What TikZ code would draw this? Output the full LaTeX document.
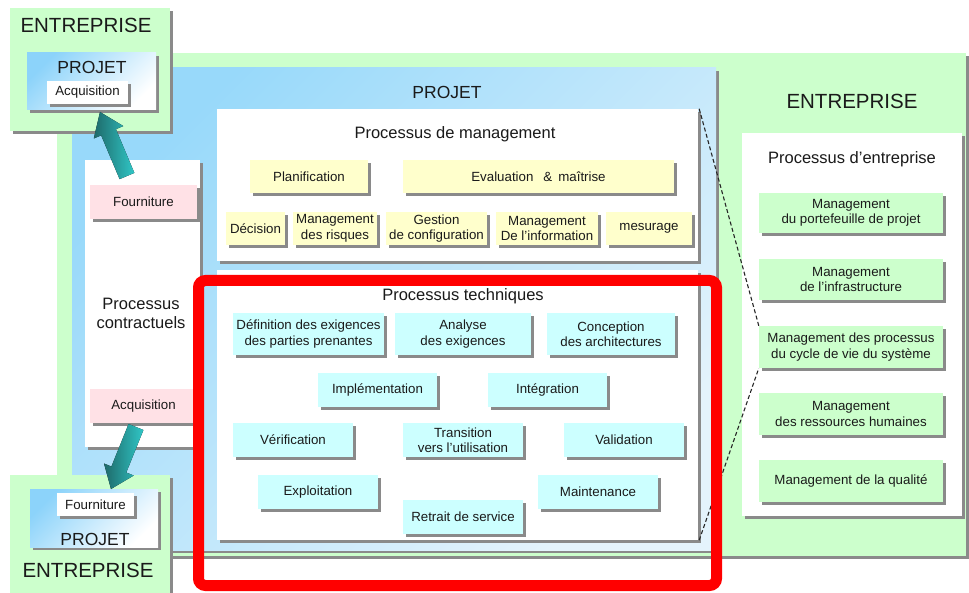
\documentclass[tikz,border=0pt]{standalone}
\usepackage{fontspec}
\setmainfont{Liberation Sans}
\usetikzlibrary{shadows,calc}
\definecolor{entgreen}{HTML}{CCFFCC}
\definecolor{shadowgray}{HTML}{8A8A8A}
\definecolor{blueA}{HTML}{98D9FA}
\definecolor{blueB}{HTML}{E4F3FC}
\definecolor{blueS}{HTML}{8CD3FA}
\definecolor{ybcol}{HTML}{FFFFCC}
\definecolor{cbcol}{HTML}{CCFFFF}
\definecolor{pbcol}{HTML}{FFE1E6}
\definecolor{gbcol}{HTML}{CCFFCC}
\definecolor{txt}{HTML}{1A1A1A}
\definecolor{tealD}{HTML}{1E6A6A}
\definecolor{tealL}{HTML}{30C6C6}
\newcommand\fsBody{\fontsize{13.3}{15.5}\selectfont}
\newcommand\fsTitle{\fontsize{16.5}{19}\selectfont}
\newcommand\fsProj{\fontsize{17.5}{20}\selectfont}
\newcommand\fsBig{\fontsize{20.5}{24}\selectfont}
\tikzset{
  shad/.style={drop shadow={shadow xshift=3pt, shadow yshift=-3pt, fill=shadowgray, opacity=1}},
  frame/.style={shad, inner sep=0pt},
  boxbase/.style={shad, inner sep=0pt, align=center, font=\fsBody, text=txt},
  ybox/.style={boxbase, fill=ybcol},
  cbox/.style={boxbase, fill=cbcol},
  gbox/.style={boxbase, fill=gbcol},
  pbox/.style={boxbase, fill=pbcol},
  wbox/.style={boxbase, fill=white},
  projgrad/.style={frame, top color=blueS, bottom color=white, shading angle=45},
  lbl/.style={inner sep=0pt, text=txt, align=center},
  teal/.style={left color=tealD, right color=tealL},
  link/.style={draw=black!85, line width=1.1pt, dash pattern=on 4pt off 2.5pt},
}
\begin{document}
\begin{tikzpicture}[x=1pt,y=-1pt]
\useasboundingbox (0,0) rectangle (969,593);
\fill[white] (0,0) rectangle (969,593);

% large containers
\node[frame, fill=entgreen, minimum width=909pt, minimum height=503pt] (entR) at (511.5,304.5) {};
\node[frame, top color=blueA, bottom color=blueB, shading angle=45, minimum width=644pt, minimum height=482pt] (proj) at (394,309) {};
\node[frame, fill=white, minimum width=481pt, minimum height=152pt] (mgmt) at (457.5,185) {};
\node[frame, fill=white, minimum width=481pt, minimum height=270pt] (tech) at (457.5,405) {};
\node[frame, fill=white, minimum width=115pt, minimum height=287pt] (contr) at (142.5,303.5) {};
\node[frame, fill=white, minimum width=220pt, minimum height=383pt] (entproc) at (852,324.5) {};

% titles
\node[lbl, font=\fsProj] (projlbl) at (447,92) {PROJET};
\node[lbl, font=\fsTitle] (mgmtlbl) at (455,134) {Processus de management};
\node[lbl, font=\fsTitle] (techlbl) at (463,296) {Processus techniques};
\node[lbl, font=\fsBig] (entRlbl) at (852,101) {ENTREPRISE};
\node[lbl, font=\fsTitle] (entproclbl) at (852,159) {Processus d’entreprise};
\node[lbl, font=\fsTitle] (contrlbl) at (141,313) {Processus\\contractuels};

% management processes
\node[ybox, minimum width=118pt, minimum height=33pt] (plan) at (309,176.5) {Planification};
\node[ybox, minimum width=271pt, minimum height=33pt] (eval) at (538.5,176.5) {Evaluation\hspace{10pt}\&\hspace{6pt}maîtrise};
\node[ybox, minimum width=59pt, minimum height=33pt] (dec) at (255.5,228.5) {Décision};
\node[ybox, minimum width=84pt, minimum height=33pt] (risk) at (335,228.5) {Management\\des risques};
\node[ybox, minimum width=101pt, minimum height=33pt] (conf) at (436.5,228.5) {Gestion\\de configuration};
\node[ybox, minimum width=102pt, minimum height=33pt] (info) at (547,228.5) {Management\\De l’information};
\node[ybox, minimum width=86pt, minimum height=33pt] (mes) at (649,228.5) {mesurage};

% technical processes
\node[cbox, minimum width=151pt, minimum height=42pt] (defx) at (308.5,334) {Définition des exigences\\des parties prenantes};
\node[cbox, minimum width=136pt, minimum height=42pt] (anax) at (463,334) {Analyse\\des exigences};
\node[cbox, minimum width=128pt, minimum height=42pt] (arch) at (611,334) {Conception\\des architectures};
\node[cbox, minimum width=119pt, minimum height=34pt] (impl) at (377.5,390) {Implémentation};
\node[cbox, minimum width=119pt, minimum height=34pt] (integ) at (547.5,390) {Intégration};
\node[cbox, minimum width=120pt, minimum height=34pt] (verif) at (293,440) {Vérification};
\node[cbox, minimum width=120pt, minimum height=34pt] (trans) at (463,440) {Transition\\vers l’utilisation};
\node[cbox, minimum width=120pt, minimum height=34pt] (valid) at (624,440) {Validation};
\node[cbox, minimum width=120pt, minimum height=34pt] (expl) at (318,492) {Exploitation};
\node[cbox, minimum width=120pt, minimum height=34pt] (maint) at (598,492) {Maintenance};
\node[cbox, minimum width=120pt, minimum height=34pt] (retr) at (463,517) {Retrait de service};

% enterprise processes
\node[gbox, minimum width=184pt, minimum height=40pt] (g1) at (851,213) {Management\\du portefeuille de projet};
\node[gbox, minimum width=184pt, minimum height=41pt] (g2) at (851,279.5) {Management\\de l’infrastructure};
\node[gbox, minimum width=184pt, minimum height=42pt] (g3) at (851,347) {Management des processus\\du cycle de vie du système};
\node[gbox, minimum width=184pt, minimum height=42pt] (g4) at (851,414) {Management\\des ressources humaines};
\node[gbox, minimum width=184pt, minimum height=42pt] (g5) at (851,481) {Management de la qualité};

% contractual processes
\node[pbox, minimum width=107pt, minimum height=34pt] (fpink) at (143.5,202) {Fourniture};
\node[pbox, minimum width=107pt, minimum height=34pt] (apink) at (143.5,406) {Acquisition};

% top-left enterprise
\node[frame, fill=entgreen, minimum width=160pt, minimum height=123pt] (entTL) at (90,69.5) {};
\node[lbl, font=\fsBig] (entTLlbl) at (86,25) {ENTREPRISE};
\node[projgrad, minimum width=129pt, minimum height=57pt] (projTL) at (91.5,81.5) {};
\node[lbl, font=\fsProj] (projTLlbl) at (92,67) {PROJET};
\node[wbox, minimum width=81pt, minimum height=23pt] (acqTL) at (87.5,92.5) {Acquisition};

% bottom-left enterprise
\node[frame, fill=entgreen, minimum width=160pt, minimum height=125pt] (entBL) at (90,537.5) {};
\node[projgrad, minimum width=128pt, minimum height=58pt] (projBL) at (94,518) {};
\node[wbox, minimum width=77pt, minimum height=23pt] (fouBL) at (95.5,504.5) {Fourniture};
\node[lbl, font=\fsProj] (projBLlbl) at (95,539) {PROJET};
\node[lbl, font=\fsBig] (entBLlbl) at (88,570) {ENTREPRISE};

% block arrows
\coordinate (uA) at (127,176);
\coordinate (uB) at (100,112);
\coordinate (uH) at ($(uB)!22pt!(uA)$);
\fill[teal] ($(uA)!8pt!90:(uB)$) -- ($(uH)!8pt!90:(uB)$) -- ($(uH)!16pt!90:(uB)$) -- (uB)
  -- ($(uH)!16pt!-90:(uB)$) -- ($(uH)!8pt!-90:(uB)$) -- ($(uA)!8pt!-90:(uB)$) -- cycle;
\coordinate (dA) at (136,427);
\coordinate (dB) at (111,489);
\coordinate (dH) at ($(dB)!21pt!(dA)$);
\fill[teal] ($(dA)!8pt!90:(dB)$) -- ($(dH)!8pt!90:(dB)$) -- ($(dH)!16pt!90:(dB)$) -- (dB)
  -- ($(dH)!16pt!-90:(dB)$) -- ($(dH)!8pt!-90:(dB)$) -- ($(dA)!8pt!-90:(dB)$) -- cycle;

% dashed zoom lines
\draw[link] ($(mgmt.north east)+(1,0)$) -- (g3.north west);
\draw[link] ($(tech.south east)+(1,0)$) -- (g3.south west);

% red highlight
\node[draw=red, line width=11pt, rounded corners=7pt, inner sep=0pt, minimum width=518pt, minimum height=305pt] (hl) at (457.5,433) {};
\end{tikzpicture}
\end{document}
